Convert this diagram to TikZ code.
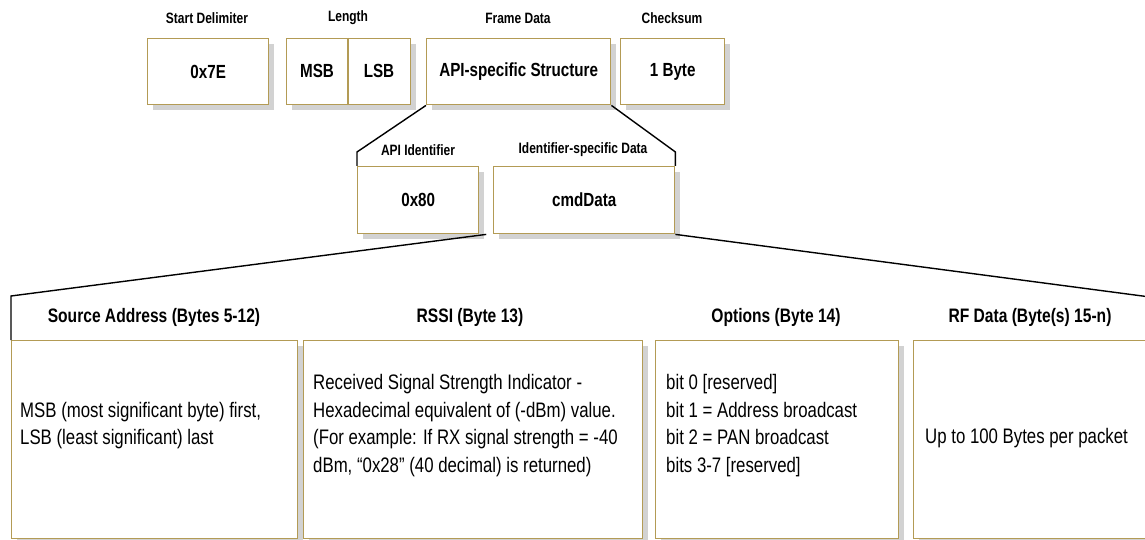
\documentclass[tikz,border=0pt]{standalone}
\usepackage{fontspec}
\setmainfont[FakeStretch=0.8]{Liberation Sans}
\usetikzlibrary{calc}
\definecolor{boxline}{HTML}{B39B55}
\definecolor{shadowgrey}{HTML}{D2D2D2}
\tikzset{
  fbox/.style={draw=boxline, line width=1.4pt, fill=white, anchor=north west, inner sep=0pt,
    preaction={draw=none, fill=shadowgrey, transform canvas={xshift=5pt, yshift=-5pt}}},
  boxtxt/.style={font=\fontsize{19}{22}\selectfont\bfseries},
  toplbl/.style={font=\fontsize{15}{17}\selectfont\bfseries},
  hdr/.style={font=\fontsize{19.5}{22}\selectfont\bfseries},
  body/.style={font=\fontsize{21}{27.6}\selectfont, align=left, anchor=west, inner sep=0pt},
  conn/.style={draw=black, line width=1.4pt},
}
\begin{document}
\begin{tikzpicture}[x=1pt,y=-1pt]
\useasboundingbox (0,0) rectangle (1145,540);
% top row
\node[fbox, minimum width=121pt, minimum height=66pt] (start) at (147,38) {};
\node[boxtxt] at (start.center) {0x7E};
\node[toplbl] (lstart) at (207,18) {Start Delimiter};
\node[fbox, minimum width=124pt, minimum height=66pt] (len) at (286,38) {};
\draw[draw=boxline, line width=1.4pt] (348,38) -- (348,104);
\node[boxtxt] (msb) at (317,71) {MSB};
\node[boxtxt] (lsb) at (379,71) {LSB};
\node[toplbl] (llen) at (348,18) {Length};
\node[fbox, minimum width=184pt, minimum height=66pt] (frame) at (426,38) {};
\node[boxtxt] at (frame.center) {API-specific Structure};
\node[toplbl] (lframe) at (518,18) {Frame Data};
\node[fbox, minimum width=104pt, minimum height=66pt] (cks) at (620,38) {};
\node[boxtxt] at (cks.center) {1 Byte};
\node[toplbl] (lcks) at (672,18) {Checksum};
% middle row
\node[fbox, minimum width=121pt, minimum height=67pt] (api) at (357,166) {};
\node[boxtxt] at (api.center) {0x80};
\node[toplbl] (lapi) at (418,150) {API Identifier};
\node[fbox, minimum width=181pt, minimum height=67pt] (cmd) at (493,166) {};
\node[boxtxt] at (cmd.center) {cmdData};
\node[toplbl] (lcmd) at (583,150) {Identifier-specific Data};
\draw[conn] (frame.south west) -- (api.north west |- 0,152) -- (api.north west);
\draw[conn] (frame.south east) -- (cmd.north east |- 0,152) -- (cmd.north east);
% bottom row
\node[fbox, minimum width=286pt, minimum height=198pt] (src) at (11,340) {};
\node[hdr] (lsrc) at (154,317) {Source Address (Bytes 5-12)};
\node[body] at ($(src.west)+(9,-14)$) {MSB (most significant byte) first,\\LSB (least significant) last};
\node[fbox, minimum width=339pt, minimum height=198pt] (rssi) at (303,340) {};
\node[hdr] (lrssi) at (470,317) {RSSI (Byte 13)};
\node[body] at ($(rssi.west)+(10,-14)$) {Received Signal Strength Indicator -\\Hexadecimal equivalent of (-dBm) value.\\(For example: If RX signal strength = -40\\dBm, ``0x28'' (40 decimal) is returned)};
\node[fbox, minimum width=243pt, minimum height=198pt] (opt) at (655,340) {};
\node[hdr] (lopt) at (776,317) {Options (Byte 14)};
\node[body] at ($(opt.west)+(11,-14)$) {bit 0 [reserved]\\bit 1 = Address broadcast\\bit 2 = PAN broadcast\\bits 3-7 [reserved]};
\node[fbox, minimum width=250pt, minimum height=198pt] (rf) at (913,340) {};
\node[hdr] (lrf) at (1030,317) {RF Data (Byte(s) 15-n)};
\node[body] at ($(rf.west)+(12,-2)$) {Up to 100 Bytes per packet};
\coordinate (split) at ($(api.south east)!0.5!(cmd.south west)$);
\coordinate (rend) at (1150,297);
\draw[conn] (split) -- (src.north west |- 0,296) -- (src.north west);
\draw[conn] (cmd.south east) -- (rend);
\end{tikzpicture}
\end{document}
